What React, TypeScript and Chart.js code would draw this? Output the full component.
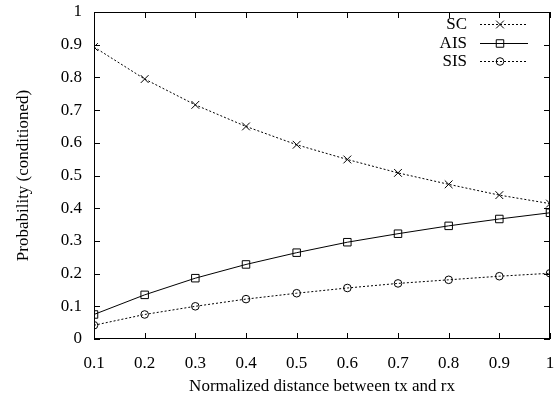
import React, { useEffect, useRef } from "react";
import { Chart, registerables } from "chart.js";

Chart.register(...registerables);

const distances = [0.1, 0.2, 0.3, 0.4, 0.5, 0.6, 0.7, 0.8, 0.9, 1.0];
const scValues = [0.893, 0.795, 0.716, 0.65, 0.594, 0.549, 0.508, 0.473, 0.44, 0.414];
const aisValues = [0.075, 0.135, 0.186, 0.228, 0.264, 0.296, 0.322, 0.346, 0.367, 0.386];
const sisValues = [0.042, 0.075, 0.1, 0.122, 0.14, 0.156, 0.17, 0.181, 0.192, 0.201];
const xTicks = [0.1, 0.2, 0.3, 0.4, 0.5, 0.6, 0.7, 0.8, 0.9, 1.0];
const yTicks = [0, 0.1, 0.2, 0.3, 0.4, 0.5, 0.6, 0.7, 0.8, 0.9, 1.0];
const seriesNames = ["SC", "AIS", "SIS"];

const FONT = "'Liberation Serif', 'DejaVu Serif', serif";

function fmt(v: number) {
  const r = Math.round(v * 10) / 10;
  if (r === 0) return "0";
  if (r === 1) return "1";
  return r.toFixed(1);
}

function drawMarker(ctx: CanvasRenderingContext2D, style: string, x: number, y: number, r: number) {
  ctx.beginPath();
  const h = r / Math.SQRT2;
  if (style === "crossRot") {
    ctx.moveTo(x - h, y - h);
    ctx.lineTo(x + h, y + h);
    ctx.moveTo(x + h, y - h);
    ctx.lineTo(x - h, y + h);
  } else if (style === "rect") {
    ctx.rect(x - h, y - h, 2 * h, 2 * h);
  } else {
    ctx.arc(x, y, r, 0, Math.PI * 2);
  }
  ctx.stroke();
}

const framePlugin = {
  id: "frame",
  afterDraw(chart: any) {
    const { ctx, chartArea } = chart;
    const xs = chart.scales.x;
    const ys = chart.scales.y;
    ctx.save();
    ctx.strokeStyle = "#000";
    ctx.lineWidth = 1;
    ctx.setLineDash([]);
    ctx.strokeRect(chartArea.left + 0.5, chartArea.top + 0.5, chartArea.right - chartArea.left - 1, chartArea.bottom - chartArea.top - 1);
    const tl = 6;
    ctx.beginPath();
    xTicks.forEach((v) => {
      const px = Math.round(xs.getPixelForValue(v)) + 0.5;
      ctx.moveTo(px, chartArea.bottom);
      ctx.lineTo(px, chartArea.bottom - tl);
      ctx.moveTo(px, chartArea.top);
      ctx.lineTo(px, chartArea.top + tl);
    });
    yTicks.forEach((v) => {
      const py = Math.round(ys.getPixelForValue(v)) + 0.5;
      ctx.moveTo(chartArea.left, py);
      ctx.lineTo(chartArea.left + tl, py);
      ctx.moveTo(chartArea.right, py);
      ctx.lineTo(chartArea.right - tl, py);
    });
    ctx.stroke();

    // legend
    ctx.font = `17px ${FONT}`;
    ctx.fillStyle = "#000";
    ctx.textAlign = "right";
    ctx.textBaseline = "middle";
    const textRight = 467;
    const lineL = 480;
    const lineR = 528;
    const rowY = [24, 43, 61];
    chart.data.datasets.forEach((ds: any, i: number) => {
      const y = rowY[i];
      ctx.fillText(ds.label, textRight, y + 1);
      ctx.setLineDash(ds.borderDash || []);
      ctx.beginPath();
      ctx.moveTo(lineL, y + 0.5);
      ctx.lineTo(lineR, y + 0.5);
      ctx.stroke();
      ctx.setLineDash([]);
      drawMarker(ctx, ds.pointStyle, 500, y + 0.5, ds.pointRadius);
    });
    ctx.restore();
  },
};

export default function App() {
  const ref = useRef<HTMLCanvasElement>(null);
  useEffect(() => {
    document.body.style.margin = "0";
    const mk = (v: number[]) => distances.map((d, i) => ({ x: d, y: v[i] }));
    const common = {
      borderColor: "#000",
      borderWidth: 1,
      pointBorderColor: "#000",
      pointBackgroundColor: "transparent",
      pointBorderWidth: 1,
    };
    const chart = new Chart(ref.current!, {
      type: "line",
      data: {
        datasets: [
          { ...common, label: seriesNames[0], data: mk(scValues), borderDash: [2, 2], pointStyle: "crossRot", pointRadius: 5.5 },
          { ...common, label: seriesNames[1], data: mk(aisValues), pointStyle: "rect", pointRadius: 5.3 },
          { ...common, label: seriesNames[2], data: mk(sisValues), borderDash: [2, 2], pointStyle: "circle", pointRadius: 3.8 },
        ] as any,
      },
      options: {
        animation: false,
        responsive: false,
        layout: { padding: { top: 12, right: 8, left: 0, bottom: 0 } },
        plugins: { legend: { display: false }, tooltip: { enabled: false } },
        scales: {
          x: {
            type: "linear",
            min: 0.1,
            max: 1,
            afterFit: (s: any) => { s.height = 60; s.paddingLeft = 0; s.paddingRight = 0; },
            afterBuildTicks: (s: any) => { s.ticks = xTicks.map((v) => ({ value: v })); },
            grid: { display: false, drawTicks: false },
            border: { display: false },
            ticks: { color: "#000", padding: 14, font: { family: FONT, size: 17 }, callback: (v: any) => fmt(Number(v)), maxRotation: 0, autoSkip: false },
            title: { display: true, text: "Normalized distance between tx and rx", color: "#000", font: { family: FONT, size: 17 }, padding: { top: 0, bottom: 2 } },
          },
          y: {
            type: "linear",
            min: 0,
            max: 1,
            afterFit: (s: any) => { s.width = 94; s.paddingTop = 0; s.paddingBottom = 0; },
            afterBuildTicks: (s: any) => { s.ticks = yTicks.map((v) => ({ value: v })); },
            grid: { display: false, drawTicks: false },
            border: { display: false },
            ticks: { color: "#000", padding: 12, font: { family: FONT, size: 17 }, callback: (v: any) => fmt(Number(v)), autoSkip: false },
            title: { display: true, text: "Probability (conditioned)", color: "#000", font: { family: FONT, size: 17 }, padding: { top: 13, bottom: 0 } },
          },
        },
      },
      plugins: [framePlugin],
    });
    return () => chart.destroy();
  }, []);
  return <canvas ref={ref} width={558} height={399} style={{ display: "block" }} />;
}
